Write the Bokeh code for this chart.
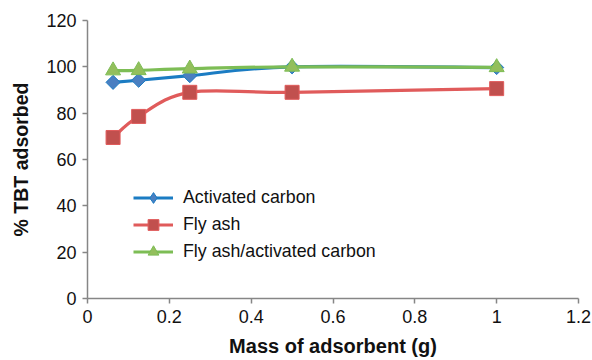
import math
from bokeh.plotting import figure
from bokeh.models import Range1d, FixedTicker, Legend, LegendItem, ColumnDataSource
from bokeh.embed import file_html
from bokeh.resources import INLINE

# ---- data ----
mass = [0.0625, 0.125, 0.25, 0.5, 1.0]
activated_carbon = [93.3, 94.2, 96.2, 100.0, 99.7]
fly_ash = [69.5, 78.6, 89.0, 89.0, 90.6]
fly_ash_ac = [98.4, 98.5, 99.2, 100.0, 99.8]

series_names = ["Activated carbon", "Fly ash", "Fly ash/activated carbon"]
x_ticks = [0, 0.2, 0.4, 0.6, 0.8, 1.0, 1.2]
x_tick_labels = ["0", "0.2", "0.4", "0.6", "0.8", "1", "1.2"]
y_ticks = [0, 20, 40, 60, 80, 100, 120]

FONT = "Liberation Sans"
AXIS_COLOR = "#868686"

p = figure(width=592, height=360, output_backend="svg", toolbar_location=None,
           x_range=Range1d(0, 1.2), y_range=Range1d(0, 120),
           min_border_left=87, min_border_right=14, min_border_top=20, min_border_bottom=62)
p.outline_line_color = None
p.xgrid.grid_line_color = None
p.ygrid.grid_line_color = None
p.background_fill_color = "white"
p.border_fill_color = "white"

p.xaxis.ticker = FixedTicker(ticks=x_ticks)
p.xaxis.major_label_overrides = {t: l for t, l in zip(x_ticks, x_tick_labels)}
p.yaxis.ticker = FixedTicker(ticks=y_ticks)
for ax in (p.xaxis, p.yaxis):
    ax.axis_line_color = AXIS_COLOR
    ax.axis_line_width = 1.5
    ax.major_tick_line_color = AXIS_COLOR
    ax.major_tick_line_width = 1.5
    ax.major_tick_in = 0
    ax.major_tick_out = 5
    ax.minor_tick_line_color = None
    ax.major_label_text_font = FONT
    ax.major_label_text_font_size = "18px"
    ax.major_label_text_color = "#111111"
    ax.axis_label_text_font = FONT
    ax.axis_label_text_font_style = "bold"
    ax.axis_label_text_color = "#111111"
p.xaxis.axis_label = "Mass of adsorbent (g)"
p.yaxis.axis_label = "% TBT adsorbed"
p.xaxis.axis_label_text_font_size = "20px"
p.yaxis.axis_label_text_font_size = "19.5px"
p.xaxis.major_label_standoff = 6
p.yaxis.major_label_standoff = 6
p.xaxis.axis_label_standoff = 9
p.yaxis.axis_label_standoff = 11


def bezier_source(xs, ys):
    # Excel-style smoothed line: cubic Bezier segments with Catmull-Rom control points
    n = len(xs)
    d = dict(x0=[], y0=[], x1=[], y1=[], cx0=[], cy0=[], cx1=[], cy1=[])
    for i in range(n - 1):
        pm = i - 1 if i > 0 else i
        pp = i + 2 if i + 2 < n else i + 1
        d["x0"].append(xs[i]); d["y0"].append(ys[i])
        d["x1"].append(xs[i + 1]); d["y1"].append(ys[i + 1])
        d["cx0"].append(xs[i] + (xs[i + 1] - xs[pm]) / 6)
        d["cy0"].append(ys[i] + (ys[i + 1] - ys[pm]) / 6)
        d["cx1"].append(xs[i + 1] - (xs[pp] - xs[i]) / 6)
        d["cy1"].append(ys[i + 1] - (ys[pp] - ys[i]) / 6)
    return ColumnDataSource(d)


styles = [
    dict(ys=activated_carbon, line="#1B7CC3", fill="#4A7FC1", marker="square", size=10,
         angle=math.pi / 4, legend_marker="diamond"),
    dict(ys=fly_ash, line="#E05B5B", fill="#C1504E", marker="square", size=14, angle=0,
         legend_marker=None),
    dict(ys=fly_ash_ac, line="#7DBD55", fill="#93BF5C", marker="triangle", size=15, angle=0,
         legend_marker=None),
]

items = []
for name, st in zip(series_names, styles):
    src = bezier_source(mass, st["ys"])
    b = p.bezier(x0="x0", y0="y0", x1="x1", y1="y1", cx0="cx0", cy0="cy0", cx1="cx1", cy1="cy1",
                 source=src, line_color=st["line"], line_width=3.2)
    key = None
    if st["legend_marker"]:
        # legend swatch shape (diamond); drawn small, hidden beneath the rotated-square markers
        key = p.scatter(mass, st["ys"], marker=st["legend_marker"], size=5,
                        fill_color=st["fill"], line_color=st["line"], line_width=1)
    s = p.scatter(mass, st["ys"], marker=st["marker"], size=st["size"], angle=st["angle"],
                  fill_color=st["fill"], line_color=st["line"], line_width=1)
    items.append(LegendItem(label=name, renderers=[b, key if key is not None else s]))

legend = Legend(items=items, location=(46, 33), orientation="vertical")
legend.background_fill_alpha = 0
legend.border_line_color = None
legend.padding = 0
legend.margin = 0
legend.spacing = 0
legend.glyph_width = 40
legend.glyph_height = 27
legend.label_height = 20
legend.label_standoff = 10
legend.label_text_font = FONT
legend.label_text_font_size = "17.8px"
legend.label_text_color = "#111111"
p.add_layout(legend, "center")

open("out.html", "w").write(file_html(p, INLINE))
